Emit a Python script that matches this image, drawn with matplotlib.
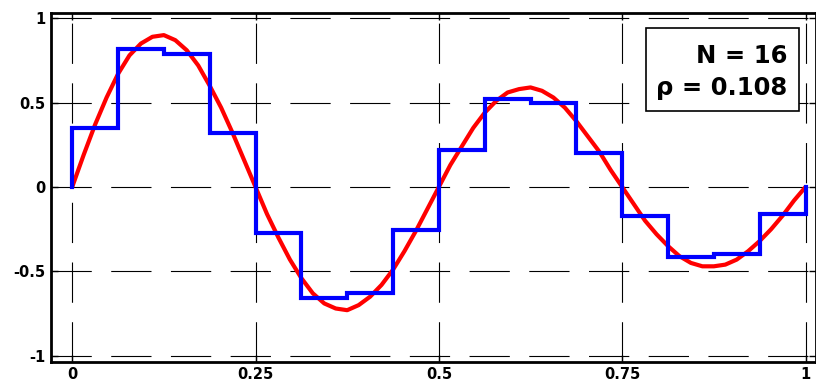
import numpy as np
import matplotlib.pyplot as plt
from matplotlib.patches import Rectangle

plt.rcParams['font.family'] = ['DejaVu Sans']
plt.rcParams['font.weight'] = 'bold'
plt.rcParams['lines.scale_dashes'] = False

# red curve, read at steps of 1/64
curve_x = np.arange(65) / 64
curve_y = [0, 0.19, 0.37, 0.53, 0.67, 0.78, 0.85, 0.89, 0.90, 0.87, 0.81, 0.72,
           0.60, 0.47, 0.32, 0.16, 0, -0.16, -0.30, -0.43, -0.54, -0.63, -0.69,
           -0.72, -0.73, -0.70, -0.65, -0.58, -0.49, -0.38, -0.26, -0.13, 0,
           0.13, 0.24, 0.35, 0.44, 0.51, 0.56, 0.58, 0.59, 0.57, 0.53, 0.47,
           0.39, 0.30, 0.21, 0.10, 0, -0.10, -0.20, -0.28, -0.35, -0.41, -0.45,
           -0.47, -0.47, -0.46, -0.43, -0.38, -0.32, -0.25, -0.17, -0.08, 0]

# blue staircase, N = 16 levels
n_steps = 16
step_vals = [0.35, 0.82, 0.79, 0.32, -0.27, -0.655, -0.63, -0.255,
             0.22, 0.52, 0.50, 0.20, -0.17, -0.415, -0.395, -0.16]
rho = 0.108

xticks = [0, 0.25, 0.5, 0.75, 1]
xticklabels = ['0', '0.25', '0.5', '0.75', '1']
yticks = [-1, -0.5, 0, 0.5, 1]
yticklabels = ['-1', '-0.5', '0', '0.5', '1']

fig = plt.figure(figsize=(8.16, 3.81), dpi=100)
ax = fig.add_axes([51 / 816, 19 / 381, 765 / 816, 349 / 381])

# staircase: starts and ends at zero
edges = np.arange(n_steps + 1) / n_steps
sx = np.concatenate([[0], np.repeat(edges, 2)[1:-1], [1]])
sy = np.concatenate([[0], np.repeat(step_vals, 2), [0]])

ax.plot(curve_x, curve_y, color='#ff0000', lw=3, zorder=3, solid_capstyle='round')
ax.plot(sx, sy, color='#0000ff', lw=3, zorder=4, solid_joinstyle='miter')

ax.set_xlim(-0.0289, 1.0143)
ax.set_ylim(-1.037, 1.031)
ax.set_xticks(xticks)
ax.set_xticklabels(xticklabels)
ax.set_yticks(yticks)
ax.set_yticklabels(yticklabels)
ax.tick_params(direction='in', length=5, width=1, top=True, right=True,
               labelsize=10.5)
ax.tick_params(axis='x', pad=3.5)
ax.tick_params(axis='y', pad=4)
for lab in ax.get_xticklabels() + ax.get_yticklabels():
    lab.set_fontweight('bold')
for sp in ax.spines.values():
    sp.set_linewidth(2)
ax.grid(True, color='black', lw=0.8, linestyle=(0, (29, 14)))
ax.set_axisbelow(True)

# box with N and rho
ax.add_patch(Rectangle((0.778, 0.719), 0.200, 0.238, transform=ax.transAxes,
                       facecolor='white', edgecolor='black', lw=1.2, zorder=5))
ax.text(0.963, 0.857, 'N = %d' % n_steps, transform=ax.transAxes, ha='right',
        va='baseline', fontsize=17.5, fontweight='bold', zorder=6)
ax.text(0.963, 0.765, '\u03c1 = %.3f' % rho, transform=ax.transAxes, ha='right',
        va='baseline', fontsize=17.5, fontweight='bold', zorder=6)

fig.savefig('out.png', dpi=100)
